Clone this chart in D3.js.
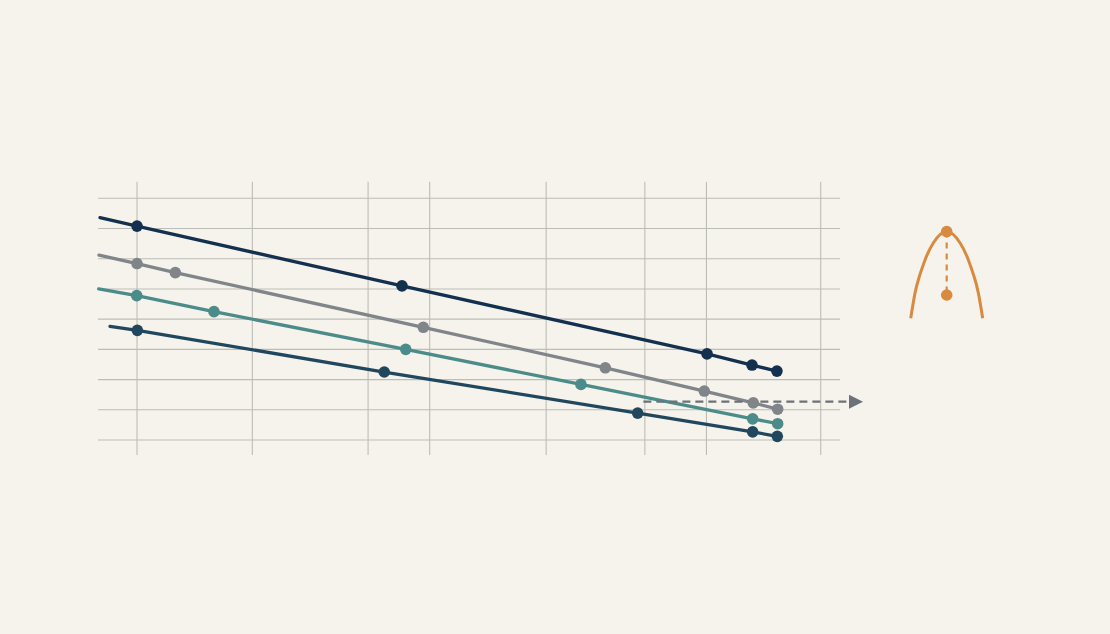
<!DOCTYPE html>
<html>
<head>
<meta charset="utf-8">
<script src="https://cdn.jsdelivr.net/npm/d3@7"></script>
<style>
  html, body { margin: 0; padding: 0; background: #f5f3eb; }
  svg { display: block; }
</style>
</head>
<body>
<div id="chart"></div>
<script>
// Grid positions (x in chart units, y as row index)
const gridX = [5.26, 20.8, 36.4, 44.7, 60.4, 73.7, 82.0, 97.4];
const gridY = [0, 1, 2, 3, 4, 5, 6, 7, 8];

// Series: first point of each is the unmarked line start
const navyX = [0.27, 5.26, 40.97, 82.08, 88.14, 91.5];
const navyY = [7.36, 7.08, 5.10, 2.85, 2.48, 2.28];
const grayX = [0.13, 5.26, 10.42, 43.84, 68.37, 81.71, 88.31, 91.6];
const grayY = [6.12, 5.84, 5.54, 3.73, 2.39, 1.62, 1.23, 1.02];
const tealX = [0.09, 5.22, 15.63, 41.47, 65.09, 88.23, 91.6];
const tealY = [5.00, 4.78, 4.25, 3.00, 1.84, 0.70, 0.54];
const deepX = [1.62, 5.30, 38.58, 72.73, 88.23, 91.55];
const deepY = [3.76, 3.63, 2.25, 0.89, 0.27, 0.12];

// Dashed arrow
const arrowX = [73.5, 103.1];
const arrowY = [1.27, 1.27];

// Orange arch + its marked points
const archX = [109.53, 110.11, 110.69, 111.46, 112.57, 114.38, 116.19, 117.30, 118.07, 118.65, 119.23];
const archY = [4.03, 4.86, 5.41, 5.96, 6.52, 6.90, 6.52, 5.96, 5.41, 4.86, 4.03];
const markX = [114.38, 114.38];
const markY = [6.90, 4.80];

const width = 1110;
const height = 634;

const svg = d3.select("#chart")
  .append("svg")
  .attr("width", width)
  .attr("height", height);

svg.append("rect")
  .attr("width", width)
  .attr("height", height)
  .attr("fill", "#f5f3eb");

const x = d3.scaleLinear().domain([0, 100]).range([98, 840]);
const y = d3.scaleLinear().domain([0, 8]).range([440, 198.3]);

// grid
const grid = svg.append("g").attr("stroke", "#bdbdb7").attr("stroke-width", 1.1);
grid.selectAll("line.h")
  .data(gridY)
  .join("line")
  .attr("class", "h")
  .attr("x1", x(0)).attr("x2", x(100))
  .attr("y1", d => y(d)).attr("y2", d => y(d));
grid.selectAll("line.v")
  .data(gridX)
  .join("line")
  .attr("class", "v")
  .attr("x1", d => x(d)).attr("x2", d => x(d))
  .attr("y1", y(8.55)).attr("y2", y(-0.5));

const series = [
  { xs: grayX, ys: grayY, color: "#80858a" },
  { xs: tealX, ys: tealY, color: "#4b8b8a" },
  { xs: deepX, ys: deepY, color: "#21475f" },
  { xs: navyX, ys: navyY, color: "#14304f" }
];

const line = d3.line().x(d => x(d[0])).y(d => y(d[1]));

// arrow head
svg.append("defs").append("marker")
  .attr("id", "head")
  .attr("viewBox", "0 0 10 10")
  .attr("refX", 10).attr("refY", 5)
  .attr("markerWidth", 14).attr("markerHeight", 15)
  .attr("markerUnits", "userSpaceOnUse")
  .attr("orient", "auto")
  .append("path")
  .attr("d", "M0,0L10,5L0,10Z")
  .attr("fill", "#6c7278");

series.forEach(s => {
  const pts = s.xs.map((v, i) => [v, s.ys[i]]);
  svg.append("path")
    .datum(pts)
    .attr("d", line)
    .attr("fill", "none")
    .attr("stroke", s.color)
    .attr("stroke-width", 3.3)
    .attr("stroke-linecap", "round");
});

// dashed arrow (under the markers)
svg.append("path")
  .datum(arrowX.map((v, i) => [v, arrowY[i]]))
  .attr("d", line)
  .attr("fill", "none")
  .attr("stroke", "#6c7278")
  .attr("stroke-width", 2.2)
  .attr("stroke-dasharray", "8,5")
  .attr("marker-end", "url(#head)");

series.forEach(s => {
  const pts = s.xs.map((v, i) => [v, s.ys[i]]).slice(1);
  svg.append("g")
    .selectAll("circle")
    .data(pts)
    .join("circle")
    .attr("cx", d => x(d[0]))
    .attr("cy", d => y(d[1]))
    .attr("r", 5.8)
    .attr("fill", s.color);
});

// orange arch
const orange = "#d88b40";
svg.append("path")
  .datum(archX.map((v, i) => [v, archY[i]]))
  .attr("d", d3.line().x(d => x(d[0])).y(d => y(d[1])).curve(d3.curveNatural))
  .attr("fill", "none")
  .attr("stroke", orange)
  .attr("stroke-width", 3);

svg.append("line")
  .attr("x1", x(markX[0])).attr("x2", x(markX[1]))
  .attr("y1", y(markY[0])).attr("y2", y(markY[1]))
  .attr("stroke", orange)
  .attr("stroke-width", 2.2)
  .attr("stroke-dasharray", "6,5");

svg.append("g")
  .selectAll("circle")
  .data(markX.map((v, i) => [v, markY[i]]))
  .join("circle")
  .attr("cx", d => x(d[0]))
  .attr("cy", d => y(d[1]))
  .attr("r", 5.8)
  .attr("fill", orange);
</script>
</body>
</html>
